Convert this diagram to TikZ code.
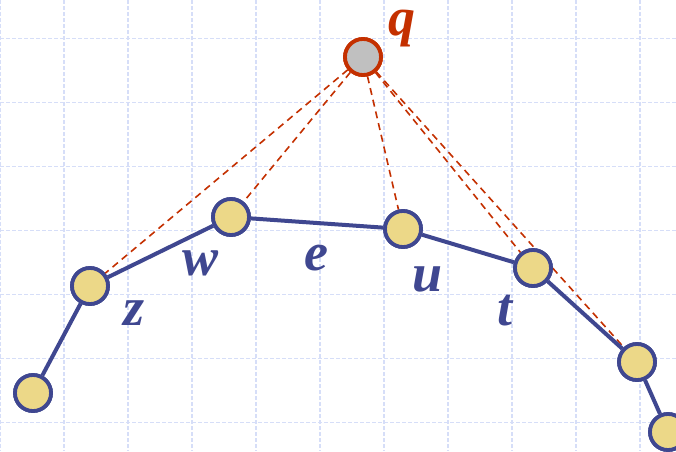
\documentclass[tikz,border=0pt]{standalone}
\usepackage{fontspec}
\setmainfont{Liberation Serif}
\definecolor{gridc}{RGB}{214,222,248}
\definecolor{edgec}{RGB}{63,71,144}
\definecolor{vfill}{RGB}{236,216,136}
\definecolor{qred}{RGB}{196,48,0}
\definecolor{qfill}{RGB}{192,192,192}
\begin{document}
\begin{tikzpicture}[x=1pt,y=-1pt,
  vert/.style={circle,draw=edgec,fill=vfill,line width=3.8pt,minimum size=36pt,inner sep=0pt},
  qvert/.style={circle,draw=qred,fill=qfill,line width=3.8pt,minimum size=36pt,inner sep=0pt},
  edge/.style={draw=edgec,line width=4pt},
  vis/.style={draw=qred,line width=1.6pt,dash pattern=on 7pt off 5pt},
  gridline/.style={draw=gridc,line width=1.5pt,dash pattern=on 4pt off 2pt},
  lab/.style={text=edgec,font=\fontsize{54}{54}\selectfont\bfseries\itshape,inner sep=0pt},
  qlab/.style={text=qred,font=\fontsize{54}{54}\selectfont\bfseries\itshape,inner sep=0pt}]
\useasboundingbox (0,0) rectangle (676,451);
\fill[white] (0,0) rectangle (676,451);
\foreach \gx in {0,64,...,640} \draw[gridline] (\gx,0) -- (\gx,451);
\foreach \gy in {38.5,102.5,...,422.5} \draw[gridline] (0,\gy) -- (676,\gy);
% vertices
\node[qvert] (q) at (363,57) {};
\node[vert] (a) at (33,393) {};
\node[vert] (z) at (90,286) {};
\node[vert] (w) at (231,217) {};
\node[vert] (u) at (403,229) {};
\node[vert] (t) at (533,268) {};
\node[vert] (n) at (637,362) {};
\node[vert] (m) at (668,432) {};
% visibility lines
\draw[vis] (q) -- (z);
\draw[vis] (q) -- (w);
\draw[vis] (q) -- (u);
\draw[vis] (q) -- (t);
\draw[vis] (q) -- (n);
% chain edges
\draw[edge] (a) -- (z);
\draw[edge] (z) -- (w);
\draw[edge] (w) -- (u);
\draw[edge] (u) -- (t);
\draw[edge] (t) -- (n);
\draw[edge] (n) -- (m);
% redraw vertices on top
\node[qvert] at (q) {};
\node[vert] at (a) {};
\node[vert] at (z) {};
\node[vert] at (w) {};
\node[vert] at (u) {};
\node[vert] at (t) {};
\node[vert] at (n) {};
\node[vert] at (m) {};
% labels
\node[qlab] (lq) at (402,29) {q};
\node[lab] (lz) at (134,313) {z};
\node[lab] (lw) at (201,263) {w};
\node[lab] (le) at (316,258) {e};
\node[lab] (lu) at (428,279) {u};
\node[lab] (lt) at (505,311) {t};
\end{tikzpicture}
\end{document}
